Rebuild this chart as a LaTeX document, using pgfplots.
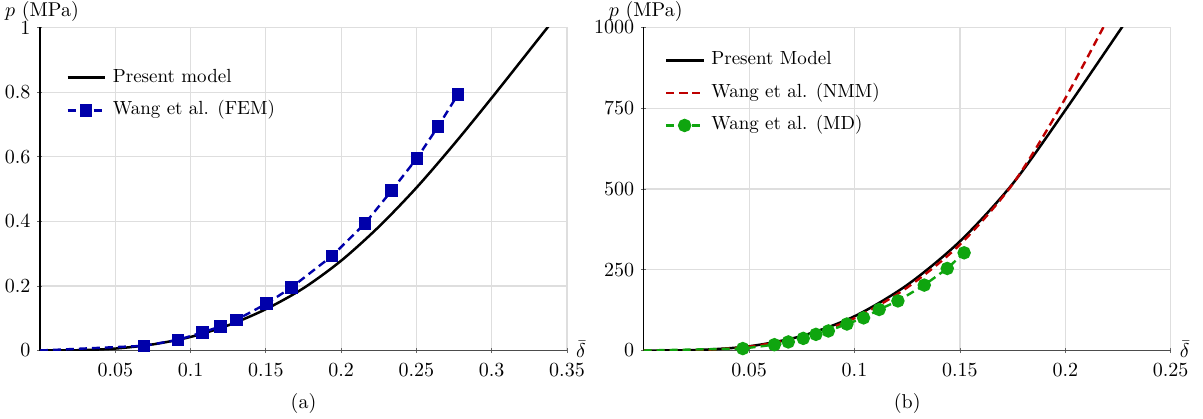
\documentclass[border=0pt]{standalone}
\usepackage{pgfplots}
\pgfplotsset{compat=1.18}
\definecolor{fembl}{RGB}{0,0,170}
\definecolor{nmmred}{RGB}{190,0,0}
\definecolor{mdgreen}{RGB}{15,165,15}
\definecolor{gridgray}{RGB}{222,222,222}
\pgfplotsset{
  myaxis/.style={
    scale only axis, width=263.5pt, height=161.5pt,
    axis lines=left, axis line style={-, line width=0.6pt},
    x axis line style={black!70},
    y axis line style={black},
    grid=major, grid style={gridgray, line width=0.6pt},
    xmin=0, ymin=0,
    tick style={black!60, line width=0.4pt}, major tick length=2.5pt,
    tick align=center,
    tick label style={font=\fontsize{10}{12}\selectfont},
    xticklabel style={inner sep=0pt, yshift=-4.8pt},
    /pgf/number format/1000 sep={},
    legend cell align=left,
    legend style={draw=none, fill=none, anchor=north west,
      font=\fontsize{9.5}{11}\selectfont, row sep=2.8pt, column sep=1.5pt,
      nodes={inner sep=2pt, text height=7pt, text depth=2.5pt}},
    legend image code/.code={\draw[mark repeat=2,mark phase=2,#1,mark indices={2}] plot coordinates {(0pt,0pt)(9.25pt,0pt)(18.5pt,0pt)};},
  },
  dsh/.style={dash pattern=on 4pt off 2.5pt},
}
\begin{document}
\fontsize{10}{12}\selectfont
\begin{tikzpicture}
\begin{axis}[myaxis, name=L,
  xmax=0.35, ymax=1,
  xtick={0.05,0.1,0.15,0.2,0.25,0.3,0.35},
  xticklabels={0.05,0.1,0.15,0.2,0.25,0.3,0.35},
  ytick={0,0.2,0.4,0.6,0.8,1},
  yticklabels={0,0.2,0.4,0.6,0.8,1},
  legend style={at={(rel axis cs:0.038,0.90)}},
]
\addplot[black, line width=1.25pt, smooth] coordinates {
(0,0)(0.025,0.0008)(0.05,0.006)(0.075,0.019)(0.1,0.042)(0.125,0.078)(0.15,0.128)(0.175,0.193)(0.2,0.278)(0.225,0.383)(0.25,0.504)(0.275,0.639)(0.3,0.782)(0.325,0.929)(0.345,1.047)};
\addlegendentry{Present model}
\addplot[fembl, line width=1.2pt, dsh, mark=square*, mark size=2.5pt, mark options={solid}, mark indices={2,3,4,5,6,7,8,9,10,11,12,13,14}] coordinates {
(0,0)(0.0691,0.0145)(0.0918,0.033)(0.1078,0.056)(0.1198,0.0745)(0.1305,0.095)(0.1504,0.145)(0.167,0.195)(0.194,0.293)(0.2158,0.393)(0.2335,0.495)(0.2503,0.595)(0.2643,0.693)(0.2776,0.793)};
\addlegendentry{Wang et al. (FEM)}
\end{axis}
\node[anchor=base, inner sep=0pt] at ([xshift=1pt,yshift=5.25pt]L.north west) {$p$ (MPa)};
\node[anchor=west, inner sep=0pt] at ([xshift=4.4pt,yshift=0.5pt]L.south east) {$\bar{\delta}$};
\node at ([yshift=-26.5pt]L.south) {(a)};

\begin{axis}[myaxis, name=R, at={(301.85pt,0pt)}, anchor=south west,
  xmax=0.25, ymax=1000,
  xtick={0.05,0.1,0.15,0.2,0.25},
  xticklabels={0.05,0.1,0.15,0.2,0.25},
  ytick={0,250,500,750,1000},
  yticklabels={0,250,500,750,1000},
  legend style={at={(rel axis cs:0.028,0.954)}},
]
\addplot[black, line width=1.25pt, smooth] coordinates {
(0,0)(0.025,1.5)(0.05,13)(0.075,45)(0.1,106)(0.125,203)(0.15,338)(0.175,516)(0.2,744)(0.2268,1000)(0.23,1032)};
\addlegendentry{Present Model}
\addplot[nmmred, line width=1.2pt, dsh, smooth] coordinates {
(0,0)(0.025,1)(0.05,12)(0.075,42)(0.1,100)(0.125,195)(0.15,328)(0.175,515)(0.1975,752)(0.218,1000)(0.221,1040)};
\addlegendentry{Wang et al. (NMM)}
\addplot[mdgreen, line width=1.2pt, dsh, mark=*, mark size=2.75pt, mark options={solid}, mark indices={2,3,4,5,6,7,8,9,10,11,12,13,14}] coordinates {
(0,0)(0.047,6)(0.062,18)(0.0686,26.5)(0.0757,37.5)(0.0817,50)(0.0876,60.5)(0.0964,82)(0.1043,101)(0.1117,127)(0.1206,153.5)(0.1331,202.5)(0.144,254)(0.152,302.5)};
\addlegendentry{Wang et al. (MD)}
\end{axis}
\node[anchor=base, inner sep=0pt] at ([xshift=1pt,yshift=5.25pt]R.north west) {$p$ (MPa)};
\node[anchor=west, inner sep=0pt] at ([xshift=4.4pt,yshift=0.5pt]R.south east) {$\bar{\delta}$};
\node at ([yshift=-26.5pt]R.south) {(b)};

\pgfresetboundingbox
\path[use as bounding box] (-20pt,-33.75pt) rectangle (581.5pt,175.25pt);
\end{tikzpicture}
\end{document}
